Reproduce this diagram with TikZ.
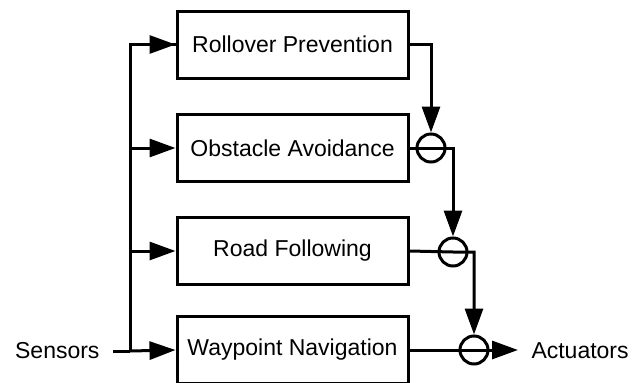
\documentclass[tikz,border=0pt]{standalone}
\usepackage{fontspec}
\setmainfont{Liberation Sans}
\usetikzlibrary{arrows.meta}
\tikzset{
  flow/.style={-{Triangle[length=26pt,width=18pt]}}
}
\begin{document}
\begin{tikzpicture}[x=1pt,y=-1pt,
  line width=3pt,
  every node/.style={font=\fontsize{23}{27}\selectfont},
  module/.style={draw, rectangle, minimum width=231pt, minimum height=67pt, inner sep=0pt},
  sumnode/.style={draw, circle, minimum size=28pt, inner sep=0pt},
  label/.style={inner sep=0pt}]
  \useasboundingbox (0,0) rectangle (635,383);

  % behaviour modules
  \node[module] (rp) at (292.5,44.5) {Rollover Prevention};
  \node[module] (oa) at (292.5,148) {Obstacle Avoidance};
  \node[module] (rf) at (292.5,251) {Road Following};
  \node[module] (wn) at (292.5,350) {Waypoint Navigation};

  % arbitration points
  \node[sumnode] (s1) at (431,148) {};
  \node[sumnode] (s2) at (453,252) {};
  \node[sumnode] (s3) at (474,350) {};

  % inputs and outputs
  \node[label, anchor=east] (sens) at (101,351) {Sensors};
  \node[label, anchor=west] (act) at (530,351) {Actuators};
  \coordinate (bus) at (130,351);
  \coordinate (out) at (518,350);

  % sensor distribution bus
  \draw (sens.east) ++(12pt,0) -- (bus);
  \draw (bus) |- (rp.west |- 0,44.5);
  \draw[flow] (bus |- rp.west) -- (rp.west);
  \draw[flow] (bus |- oa.west) -- (oa.west);
  \draw[flow] (bus |- rf.west) -- (rf.west);
  \draw[flow] (bus) -- (wn.west);

  % suppression chain
  \draw[flow] (rp.east) -| (s1.north);
  \draw[flow] (oa.east) -- (s1.center) -- (s2.north |- s1.center) -- (s2.north);
  \draw[flow] (rf.east) -- (s2.center) -- (s3.north |- s2.center) -- (s3.north);
  \draw[flow] (wn.east) -- (s3.center) -- (out);
\end{tikzpicture}
\end{document}
